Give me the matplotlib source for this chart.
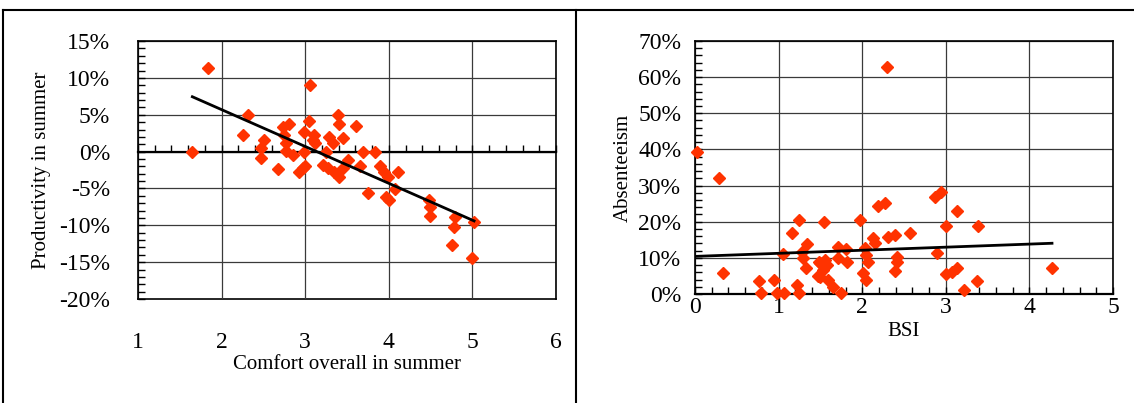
import matplotlib
matplotlib.use("Agg")
import numpy as np
import matplotlib.pyplot as plt
from matplotlib.ticker import MultipleLocator, FuncFormatter
from matplotlib.lines import Line2D

# Left chart: comfort vs productivity (%)
comfort = [1.65, 1.84, 2.25, 2.32, 2.51, 2.47, 2.47, 2.68, 2.74, 2.81,
           2.75, 2.77, 2.77, 2.85, 2.92, 2.97, 2.99, 3.04, 3.06, 3.10,
           3.09, 3.12, 2.99, 3.00, 3.39, 3.40, 3.61, 3.28, 3.33, 3.45,
           3.25, 3.69, 3.83, 3.21, 3.27, 3.34, 3.40, 3.51, 3.45, 3.65,
           3.90, 3.94, 3.99, 4.11, 4.08, 3.75, 3.97, 4.00, 4.48, 4.49,
           4.49, 4.79, 4.78, 5.02, 4.75, 5.00]
productivity = [0.0, 11.4, 2.2, 5.0, 1.6, 0.5, -0.8, -2.4, 3.4, 3.7,
                2.3, 1.2, 0.1, -0.4, -2.8, -2.2, 2.6, 4.1, 9.1, 2.2,
                1.6, 1.2, 0.0, -2.0, 5.0, 3.7, 3.5, 2.0, 1.2, 1.8,
                -0.1, -0.1, -0.1, -1.8, -2.2, -2.8, -3.4, -1.1, -2.2, -2.0,
                -2.0, -2.8, -3.4, -2.8, -5.1, -5.6, -6.1, -6.5, -6.6, -7.5,
                -8.8, -8.9, -10.2, -9.5, -12.7, -14.4]
trend_prod = (-5.0, 15.7)   # slope, intercept (% per unit)

# Right chart: BSI vs absenteeism (%)
bsi = [0.02, 0.29, 0.34, 0.77, 0.79, 0.94, 0.98, 1.06, 1.05, 1.24,
       1.16, 1.34, 1.28, 1.29, 1.33, 1.22, 1.24, 1.47, 1.48, 1.54,
       1.71, 1.81, 1.56, 1.50, 1.58, 1.53, 1.71, 1.82, 1.50, 1.59,
       1.65, 1.75, 1.97, 2.03, 2.05, 2.07, 2.01, 2.05, 2.13, 2.15,
       2.19, 2.27, 2.30, 2.31, 2.39, 2.57, 2.41, 2.42, 2.39, 2.87,
       2.94, 3.13, 3.00, 3.38, 2.89, 3.00, 3.07, 3.13, 3.22, 3.37,
       4.27]
absenteeism = [39.4, 32.1, 5.9, 3.7, 0.3, 3.9, 0.3, 0.3, 11.0, 20.5,
               17.0, 13.8, 11.7, 10.0, 7.2, 2.5, 0.3, 5.1, 8.9, 20.0,
               13.1, 12.4, 9.4, 8.6, 8.0, 6.6, 10.0, 8.9, 4.8, 3.9,
               1.9, 0.3, 20.5, 12.7, 10.8, 8.9, 5.8, 3.9, 15.5, 14.1,
               24.2, 25.2, 62.8, 15.9, 16.3, 16.9, 10.3, 8.9, 6.4, 26.9,
               28.2, 23.0, 18.8, 18.8, 11.4, 5.4, 6.0, 7.3, 1.1, 3.7,
               7.1]
trend_abs = (0.85, 10.4)

plt.rcParams['font.family'] = 'Liberation Serif'
plt.rcParams['axes.unicode_minus'] = False

MARKER = '#FF3300'
GRID = '#3a3a3a'
pct = FuncFormatter(lambda v, _: f'{v:.0f}%')

fig = plt.figure(figsize=(11.34, 4.03), dpi=100)

# ---- left panel
ax1 = fig.add_axes([0.1217, 0.258, 0.3686, 0.640])
ax1.set_xlim(1, 6)
ax1.set_ylim(-20, 15)
ax1.xaxis.set_major_locator(MultipleLocator(1))
ax1.xaxis.set_minor_locator(MultipleLocator(0.2))
ax1.yaxis.set_major_locator(MultipleLocator(5))
ax1.yaxis.set_minor_locator(MultipleLocator(1))
ax1.yaxis.set_major_formatter(pct)
ax1.grid(True, which='major', color=GRID, lw=0.9)
ax1.set_axisbelow(True)
ax1.spines['bottom'].set_position(('data', 0))
ax1.spines['bottom'].set_linewidth(1.6)
ax1.tick_params(axis='x', which='both', direction='in', length=5, width=1,
                labelbottom=False)
ax1.tick_params(axis='y', which='both', direction='in', length=5, width=1,
                pad=20, labelsize=17)
for s in ['top', 'right', 'left']:
    ax1.spines[s].set_linewidth(1.2)
sec = ax1.secondary_xaxis('bottom')
sec.set_xticks(range(1, 7))
sec.tick_params(length=0, pad=24, labelsize=17)
sec.spines['bottom'].set_linewidth(1.2)
sec.set_xlabel('Comfort overall in summer', fontsize=15, labelpad=1)
ax1.set_ylabel('Productivity in summer', fontsize=15, labelpad=6)

ax1.plot(comfort, productivity, 'D', color=MARKER, ms=5.8, mec=MARKER,
         clip_on=False, zorder=3)
xt = np.array([min(comfort), max(comfort)])
ax1.plot(xt, trend_prod[0] * xt + trend_prod[1], color='black', lw=2, zorder=4)

# ---- right panel
ax2 = fig.add_axes([0.6129, 0.2705, 0.3686, 0.628])
ax2.set_xlim(0, 5)
ax2.set_ylim(0, 70)
ax2.xaxis.set_major_locator(MultipleLocator(1))
ax2.xaxis.set_minor_locator(MultipleLocator(0.2))
ax2.yaxis.set_major_locator(MultipleLocator(10))
ax2.yaxis.set_minor_locator(MultipleLocator(2))
ax2.yaxis.set_major_formatter(pct)
ax2.grid(True, which='major', color=GRID, lw=0.9)
ax2.set_axisbelow(True)
ax2.tick_params(axis='x', which='both', direction='in', length=5, width=1,
                pad=2, labelsize=17)
ax2.tick_params(axis='y', which='both', direction='in', length=5, width=1,
                pad=10, labelsize=17)
for s in ax2.spines.values():
    s.set_linewidth(1.2)
ax2.spines['bottom'].set_linewidth(1.6)
ax2.set_xlabel('BSI', fontsize=15, labelpad=3)
ax2.set_ylabel('Absenteeism', fontsize=15, labelpad=4)

ax2.plot(bsi, absenteeism, 'D', color=MARKER, ms=5.8, mec=MARKER,
         clip_on=False, zorder=3)
xb = np.array([0.0, max(bsi)])
ax2.plot(xb, trend_abs[0] * xb + trend_abs[1], color='black', lw=2, zorder=4)

# ---- outer frame
for xs, ys in [([0.003, 1.0], [0.975, 0.975]),
               ([0.003, 0.003], [0.0, 0.975]),
               ([0.508, 0.508], [0.0, 0.975])]:
    fig.add_artist(Line2D(xs, ys, transform=fig.transFigure, color='black', lw=1.5))

fig.savefig('out.png', dpi=100)
